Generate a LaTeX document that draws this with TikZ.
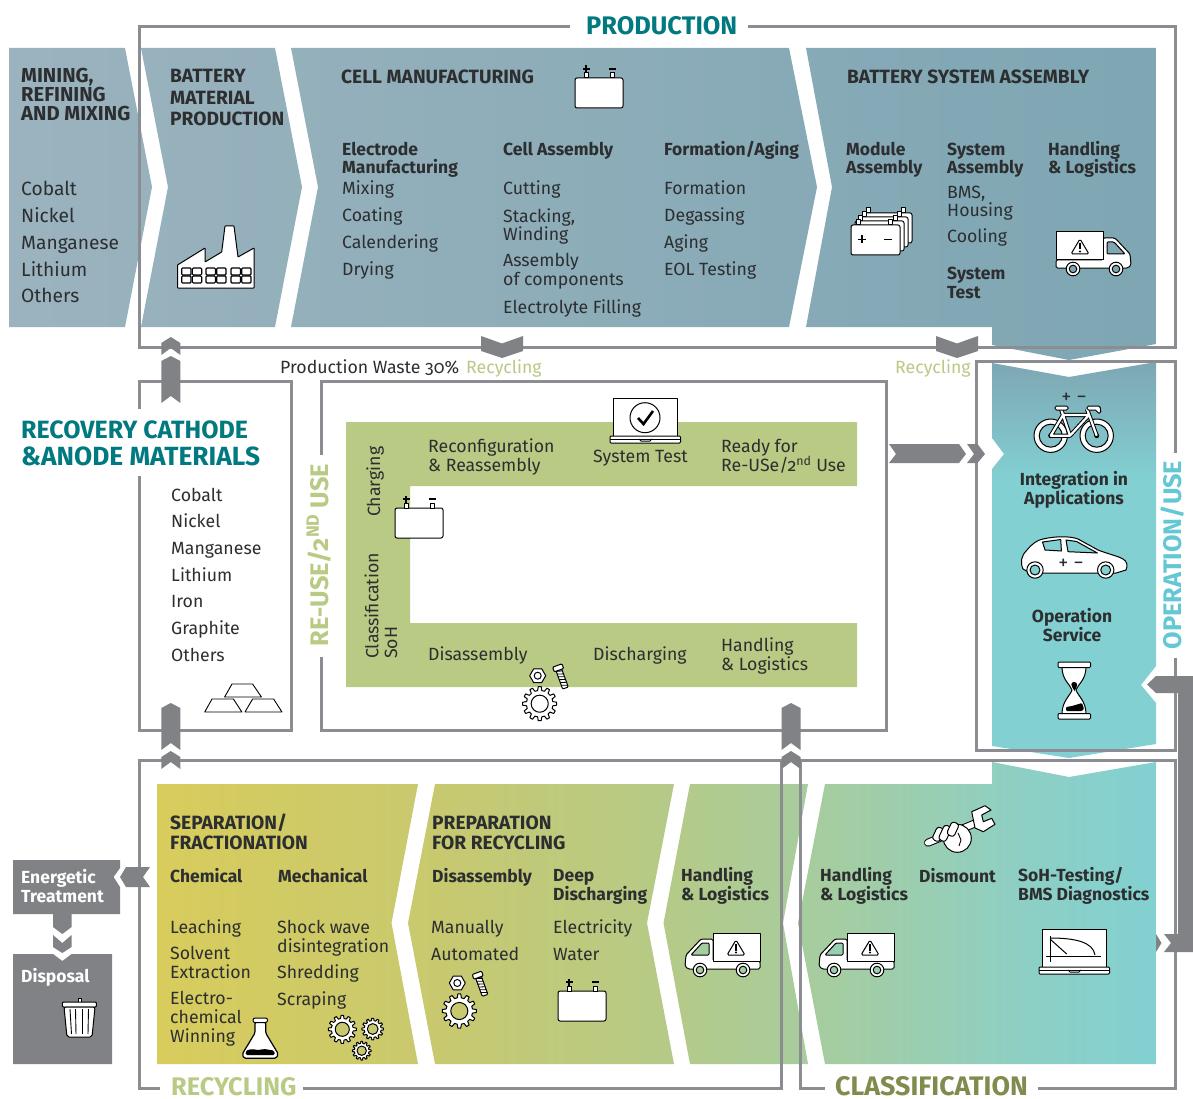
\documentclass[tikz,border=0pt]{standalone}
\usepackage{fontspec}
\setmainfont{Fira Sans}[Numbers=OldStyle]
\usetikzlibrary{positioning}

\definecolor{framegray}{HTML}{8B8D92}
\definecolor{arrowgray}{HTML}{808285}
\definecolor{txtdark}{HTML}{2C2E30}
\definecolor{tealtitle}{HTML}{007A80}
\definecolor{reusegreen}{HTML}{B9CA84}
\definecolor{opcyan}{HTML}{63C8D4}
\definecolor{olivetitle}{HTML}{808C4E}
\definecolor{topleft}{HTML}{9BB3BE}
\definecolor{topright}{HTML}{7EA6B3}
\definecolor{botA}{HTML}{D8CC5C}
\definecolor{botB}{HTML}{C8C96F}
\definecolor{botC}{HTML}{B6CA86}
\definecolor{botD}{HTML}{A2CDA5}
\definecolor{botE}{HTML}{8ECFC3}
\definecolor{botF}{HTML}{82D0D2}

\pgfdeclarehorizontalshading{botshade}{100bp}{color(0bp)=(botA); color(25bp)=(botA); color(39bp)=(botB); color(50bp)=(botC); color(60bp)=(botD); color(68bp)=(botE); color(75bp)=(botF); color(100bp)=(botF)}

\tikzset{
  panelhead/.style={anchor=base west,inner sep=0pt,align=left,text=txtdark,font=\fontsize{19.2}{19.2}\selectfont\bfseries},
  subhead/.style={anchor=base west,inner sep=0pt,align=left,text=txtdark,font=\fontsize{17.5}{18.2}\selectfont\bfseries},
  listitem/.style={anchor=base west,inner sep=0pt,align=left,text=txtdark,font=\fontsize{17.7}{18.7}\selectfont},
  bigtitle/.style={anchor=base west,inner sep=0pt,align=left,font=\fontsize{25.4}{27}\selectfont\bfseries},
  frameline/.style={draw=framegray,line width=3pt},
  chev/.style={fill=arrowgray},
  icon/.style={draw=black,fill=white,line width=1pt,line join=round},
  pics/battery/.style={code={
    \filldraw[icon,rounded corners=2pt] (0,0) rectangle (48,30);
    \filldraw[icon] (9,-5) rectangle (13,0);
    \filldraw[icon] (35,-5) rectangle (39,0);
    \draw[line width=1.8pt] (7.5,-9) -- (14.5,-9) (11,-12.5) -- (11,-5.5);
    \draw[line width=1.8pt] (33.5,-9) -- (40.5,-9);
  }},
  pics/truck/.style={code={
    \filldraw[icon,rounded corners=1.5pt] (47,6) -- (59,6) -- (74,22) -- (75,33) -- (72,36) -- (0,36) -- (0,28) -- (47,28) -- cycle;
    \filldraw[icon,fill=#1,rounded corners=1pt] (51,10) -- (58,10) -- (69,22) -- (51,22) -- cycle;
    \filldraw[icon] (0,0) rectangle (47,28);
    \filldraw[icon,rounded corners=1.5pt] (24,7) -- (33,22) -- (15,22) -- cycle;
    \fill (23,11) rectangle (25,17.5);
    \fill (24,19.5) circle (1.2);
    \filldraw[icon] (17,37) circle (6.8);
    \filldraw[icon,fill=#1] (17,37) circle (3.8);
    \filldraw[icon] (60,37) circle (6.8);
    \filldraw[icon,fill=#1] (60,37) circle (3.8);
  }},
  pics/gear/.style={code={
    \filldraw[icon] (-9:14) \foreach \a in {0,30,...,330}{ -- (\a-9:14) -- (\a-5:18) -- (\a+5:18) -- (\a+9:14) } -- cycle;
    \filldraw[icon,fill=#1] (0,0) circle (9);
  }},
  pics/parts/.style={code={
    \filldraw[icon] (0:8) -- (60:8) -- (120:8) -- (180:8) -- (240:8) -- (300:8) -- cycle;
    \draw[line width=1pt] (0,0) circle (3.5);
    \begin{scope}[shift={(24,2)},rotate=-160]
      \filldraw[icon,rounded corners=1pt] (-3,-11) rectangle (3,8);
      \filldraw[icon,rounded corners=1pt] (-5,8) rectangle (5,13);
      \foreach \s in {-9,-6,...,6} \draw[line width=.8pt] (-3,\s) -- (3,\s+2);
    \end{scope}
    \pic[scale=.95] at (2,28) {gear=#1};
  }},
  pics/laptop/.style={code={
    \filldraw[icon] (0,0) rectangle (64.5,38);
    \filldraw[icon,rounded corners=1pt] (-3,38) rectangle (67.5,45);
    \draw[line width=1pt] (-3,41) -- (67.5,41);
    \draw[line width=1pt] (26,41) -- (28,43) -- (37,43) -- (39,41);
  }},
  pics/uparrow/.style={code={
    \fill[chev] (0,0) -- (9.5,5) -- (9.5,47) -- (0,40) -- (-9.5,47) -- (-9.5,5) -- cycle;
  }},
  pics/upchevron/.style={code={
    \fill[chev] (0,0) -- (9.5,6) -- (9.5,18) -- (0,11) -- (-9.5,18) -- (-9.5,6) -- cycle;
  }},
  pics/downchevron/.style={code={
    \fill[chev] (-21,0) -- (0,7.5) -- (21,0) -- (21,15) -- (0,22) -- (-21,15) -- cycle;
  }}
}

\begin{document}
\begin{tikzpicture}[x=1pt,y=-1pt]
  \useasboundingbox (0,0) rectangle (1193,1099);
  \fill[white] (0,0) rectangle (1193,1099);

  % production panels
  \begin{scope}
    \clip (9,48) -- (125,48) -- (152,187) -- (125,327) -- (9,327) -- cycle
          (141,48) -- (275,48) -- (302,187) -- (275,327) -- (141,327) -- (168,187) -- cycle
          (291,48) -- (789,48) -- (817,187) -- (789,327) -- (291,327) -- (318,187) -- cycle
          (806,48) -- (1156,48) -- (1156,344) -- (1069,360) -- (992,345) -- (992,327) -- (806,327) -- (832,187) -- cycle;
    \shade[left color=topleft,right color=topright] (9,40) rectangle (1156,365);
  \end{scope}

  % operation panel
  \begin{scope}
    \clip (992,363) -- (1069,377) -- (1156,362) -- (1156,666) -- (1141,685) -- (1156,703) -- (1156,744) -- (1069,758) -- (992,746) -- (992,469) -- (1004,454) -- (992,438) -- cycle;
    \shade[top color=topright,bottom color=botF] (985,360) rectangle (1160,480);
    \fill[botF] (985,480) rectangle (1160,760);
  \end{scope}

  % re-use band
  \fill[reusegreen] (346,422) -- (857,422) -- (857,486) -- (410,486) -- (410,623) -- (857,623) -- (857,687) -- (346,687) -- cycle;

  % recycling and classification panels
  \begin{scope}
    \clip (157,784) -- (418,784) -- (391.5,923) -- (418,1064) -- (157,1064) -- cycle
          (435,784) -- (674,784) -- (647,923) -- (674,1064) -- (435,1064) -- (408,923) -- cycle
          (690,784) -- (808,784) -- (783,923) -- (808,1064) -- (690,1064) -- (663.5,923) -- cycle
          (825,784) -- (992,784) -- (992,762) -- (1069,777) -- (1156,762) -- (1156,1064) -- (825,1064) -- (798,923) -- cycle;
    \shade[shading=botshade] (157,755) rectangle (1156,1070);
  \end{scope}

  % side boxes
  \fill[arrowgray] (13,860) -- (120,860) -- (120,868) -- (113.6,877) -- (120,887) -- (120,914) -- (13,914) -- cycle;
  \fill[arrowgray] (13,954) -- (53,954) -- (62.4,961) -- (71.6,954) -- (112,954) -- (112,1064) -- (13,1064) -- cycle;

  % frames
  \draw[frameline] (570,27) -- (139,27) -- (139,347) -- (1175,347) -- (1175,27) -- (748,27);
  \draw[frameline] (139,409) -- (139,381) -- (291,381) -- (291,730) -- (139,730) -- (139,476);
  \draw[frameline] (321,455) -- (321,381) -- (886,381) -- (886,730) -- (321,730) -- (321,657);
  \draw[frameline] (1175,453) -- (1175,361) -- (976,361) -- (976,750) -- (1175,750) -- (1175,658);
  \draw[frameline] (160,1088) -- (139,1088) -- (139,760) -- (781,760) -- (781,1088) -- (303,1088);
  \draw[frameline] (1038,1088) -- (1175,1088) -- (1175,760) -- (800,760) -- (800,1088) -- (825,1088);

  % gray arrows
  \pic at (170.8,356) {uparrow};
  \pic at (170.8,337) {upchevron};
  \pic at (170.8,703) {uparrow};
  \pic at (170.8,751) {upchevron};
  \pic at (791,703) {uparrow};
  \pic at (791,751) {upchevron};
  \pic at (502,336) {downchevron};
  \pic at (957,336) {downchevron};
  \fill[chev] (889,444) -- (959,444) -- (966,454) -- (959,463) -- (889,463) -- (896,454) -- cycle;
  \fill[chev] (967,444) -- (977.5,444) -- (985,454) -- (977.5,463) -- (967,463) -- (974,454) -- cycle;
  \fill[chev] (1193,676) -- (1156,676) -- (1147,684.5) -- (1156,693) -- (1178,693) -- (1178,934) -- (1164,934) -- (1171,943) -- (1164,952) -- (1193,952) -- cycle;
  \fill[chev] (1156,934) -- (1161.5,943) -- (1156,952) -- cycle;
  \fill[chev] (126,867) -- (150,867) -- (143,877) -- (150,887) -- (126,887) -- (120,877) -- cycle;
  \fill[chev] (53,914) -- (71.6,914) -- (71.6,927) -- (62.3,934) -- (53,927) -- cycle;
  \fill[chev] (53,935) -- (62.3,943) -- (71.6,935) -- (71.6,947) -- (62.3,953) -- (53,947) -- cycle;

  % titles
  \node[bigtitle,text=tealtitle] (production) at (586,35) {PRODUCTION};
  \node[bigtitle,text=tealtitle] (recovery) at (21,465.5) {{\fontsize{25}{27}\selectfont RECOVERY CATHODE}\\\fontsize{26.3}{27}\selectfont\&ANODE MATERIALS};
  \node[bigtitle,text=reusegreen] (recyclingt) at (171,1095.5) {RECYCLING};
  \node[bigtitle,text=olivetitle,font=\fontsize{26.8}{27}\selectfont\bfseries] (classification) at (835,1095.5) {CLASSIFICATION};
  \node[bigtitle,text=reusegreen,rotate=90,anchor=base] (reuse) at (328,555) {RE-USE/2\textsuperscript{ND} USE};
  \node[bigtitle,text=opcyan,rotate=90,anchor=base] (operation) at (1181,555) {OPERATION/USE};

  % production texts
  \node[panelhead,font=\fontsize{20.2}{19}\selectfont\bfseries] (mining) at (21,121) {MINING,\\REFINING\\AND MIXING};
  \foreach \txt [count=\i from 0] in {Cobalt,Nickel,Manganese,Lithium,Others}
    \node[listitem,font=\fontsize{19.2}{19.2}\selectfont] (miningitem\i) at (21,{196+26.7*\i}) {\txt};
  \node[panelhead,font=\fontsize{19.2}{21.5}\selectfont\bfseries] (material) at (170,126) {BATTERY\\MATERIAL\\PRODUCTION};
  \node[panelhead] (cellhead) at (341,84) {CELL MANUFACTURING};
  \node[subhead] (electrode) at (342,173.3) {Electrode\\Manufacturing};
  \foreach \txt [count=\i from 0] in {Mixing,Coating,Calendering,Drying}
    \node[listitem] (electrodeitem\i) at (342,{195+27*\i}) {\txt};
  \node[subhead] (cellassembly) at (503,155.5) {Cell Assembly};
  \node[listitem] (cutting) at (503,195) {Cutting};
  \node[listitem] (stacking) at (503,241) {Stacking,\\Winding};
  \node[listitem] (assembly) at (503,285) {Assembly\\of components};
  \node[listitem] (filling) at (503,313) {Electrolyte Filling};
  \node[subhead] (formationhead) at (664,155.5) {Formation/Aging};
  \foreach \txt [count=\i from 0] in {Formation,Degassing,Aging,EOL Testing}
    \node[listitem] (formationitem\i) at (664,{195+27*\i}) {\txt};
  \node[panelhead] (systemhead) at (847,84) {BATTERY SYSTEM ASSEMBLY};
  \node[subhead] (module) at (846,173.3) {Module\\Assembly};
  \node[subhead] (sysassembly) at (947,173.3) {System\\Assembly};
  \node[subhead] (handlingA) at (1048,173.3) {Handling\\\& Logistics};
  \node[listitem] (bms) at (947,217) {BMS,\\Housing};
  \node[listitem] (cooling) at (947,243) {Cooling};
  \node[subhead] (systest) at (947,298) {System\\Test};

  \node[listitem] (waste) at (280,373) {Production Waste 30\%};
  \node[listitem,text=reusegreen] (recyclingA) at (466,373) {Recycling};
  \node[listitem,text=reusegreen] (recyclingB) at (895,373) {Recycling};

  % recovery list
  \foreach \txt [count=\i from 0] in {Cobalt,Nickel,Manganese,Lithium,Iron,Graphite,Others}
    \node[listitem] (recoveryitem\i) at (171,{501+26.7*\i}) {\txt};

  % re-use texts
  \node[listitem] (reconfig) at (428,471.5) {Reconfiguration\\\& Reassembly};
  \node[listitem] (systemtest) at (593,462) {System Test};
  \node[listitem] (ready) at (721,471.5) {Ready for\\Re-USe/2\smash{\textsuperscript{nd}} Use};
  \node[listitem,rotate=90] (charging) at (380,517) {Charging};
  \node[listitem,rotate=90] (classsoh) at (397,659) {Classification\\SoH};
  \node[listitem] (disassemblyA) at (428,660) {Disassembly};
  \node[listitem] (discharging) at (593,660) {Discharging};
  \node[listitem] (handlingB) at (721,670) {Handling\\\& Logistics};

  % operation texts
  \node[subhead,anchor=base,align=center] (integration) at (1074,504) {Integration in\\Applications};
  \node[subhead,anchor=base,align=center] (opservice) at (1072,641) {Operation\\Service};

  % recycling texts
  \node[panelhead] (separation) at (170,849) {SEPARATION/\\FRACTIONATION};
  \node[panelhead] (preparation) at (432,849) {PREPARATION\\FOR RECYCLING};
  \node[subhead] (chemical) at (170,882) {Chemical};
  \node[subhead] (mechanical) at (278,882) {Mechanical};
  \node[subhead] (disassemblyB) at (432,882) {Disassembly};
  \node[subhead] (deep) at (553,900) {Deep\\Discharging};
  \node[subhead] (handlingC) at (681,900) {Handling\\\& Logistics};
  \node[subhead] (handlingD) at (820,900) {Handling\\\& Logistics};
  \node[subhead] (dismount) at (919,882) {Dismount};
  \node[subhead] (soh) at (1018,900) {SoH-Testing/\\BMS Diagnostics};
  \node[listitem] (leaching) at (170,933) {Leaching};
  \node[listitem] (solvent) at (170,978) {Solvent\\Extraction};
  \node[listitem] (electro) at (170,1042) {Electro-\\chemical\\Winning};
  \node[listitem] (shock) at (277,952) {Shock wave\\disintegration};
  \node[listitem] (shredding) at (277,978) {Shredding};
  \node[listitem] (scraping) at (277,1005) {Scraping};
  \node[listitem] (manually) at (431,933) {Manually};
  \node[listitem] (automated) at (431,960) {Automated};
  \node[listitem] (electricity) at (553,933) {Electricity};
  \node[listitem] (water) at (553,960) {Water};
  \node[subhead,text=white] (energetic) at (21,902) {Energetic\\Treatment};
  \node[subhead,text=white] (disposal) at (21,982) {Disposal};

  % reused icons
  \pic at (575,78) {battery};
  \pic at (395,508) {battery};
  \pic at (558,991) {battery};
  \pic at (1056,232) {truck=topright};
  \pic[xscale=-1] at (760,933) {truck=botD!80!botC};
  \pic[xscale=-1] at (894,933) {truck=botD!60!botE};
  \pic at (537.7,675.7) {parts=white};
  \pic at (457.3,983) {parts=botB};
  \pic[scale=.78] at (342.3,1029.3) {gear=botB};
  \pic[scale=.6] at (372.7,1029) {gear=botB};
  \pic[scale=.52] at (361.7,1050.7) {gear=botB};

  % factory
  \filldraw[icon,rounded corners=.5pt] (177.5,265) -- (205,248) -- (205,262) -- (221.7,252) -- (225,226) -- (234,226) -- (238,257) -- (254,248) -- (254,288) -- (177.5,288) -- cycle;
  \foreach \wx in {181.7,206,231}
    \foreach \wy in {268,276} {
      \draw[line width=1.1pt,rounded corners=1pt] (\wx,\wy) rectangle (\wx+9.3,\wy+7);
      \draw[line width=1.1pt,rounded corners=1pt] (\wx+10.7,\wy) rectangle (\wx+20,\wy+7);
    }

  % module stack
  \foreach \dx in {3,2,1} {
    \filldraw[icon] ({854+4*\dx},{220-4*\dx}) rectangle ({858+4*\dx},{225-4*\dx});
    \filldraw[icon] ({889+4*\dx},{220-4*\dx}) rectangle ({893+4*\dx},{225-4*\dx});
    \filldraw[icon,rounded corners=2pt] ({851+4*\dx},{225-4*\dx}) rectangle ({900+4*\dx},{255-4*\dx});
  }
  \filldraw[icon] (856,220) rectangle (860,225);
  \filldraw[icon] (888,220) rectangle (892,225);
  \filldraw[icon,rounded corners=2pt] (851,225) rectangle (900,255);
  \draw[line width=1.8pt] (858,239.5) -- (866,239.5) (862,235.5) -- (862,243.5) (884,239.5) -- (892,239.5);

  % gold bars
  \draw[line width=.9pt,line join=round] (224.6,697) -- (232,684) -- (252.6,684) -- (261.4,697) -- cycle;
  \draw[line width=.9pt,line join=round] (204.7,712) -- (212,699) -- (233.4,699) -- (241.9,712) -- cycle;
  \draw[line width=.9pt,line join=round] (245,712) -- (252.6,699) -- (273.6,699) -- (282,712) -- cycle;

  % check laptop
  \pic at (613,398) {laptop};
  \filldraw[icon] (645,417.7) circle (15);
  \draw[line width=2.6pt] (638,418) -- (643.5,424) -- (653,411);

  % bike
  \foreach \wx in {1050.7,1096.7} {
    \filldraw[icon] (\wx,435.7) circle (16.7);
    \filldraw[icon,fill=topright!35!botF] (\wx,435.7) circle (11.5);
    \fill (\wx,435.7) circle (2.5);
  }
  \foreach \lw/\lc in {4.2pt/black,2.2pt/white}
    \draw[line width=\lw,color=\lc,line join=round] (1050.7,435.7) -- (1063,415) -- (1089,415) -- (1070,435.7) -- cycle (1063,415) -- (1061,409) (1070,435.7) -- (1063,415) (1096.7,435.7) -- (1087,409);
  \filldraw[icon,rounded corners=1.5pt] (1055,406) rectangle (1068,410);
  \filldraw[icon,rounded corners=1.5pt] (1087,406) -- (1100,406) -- (1101,413) -- (1097,413) -- (1097,410) -- (1087,410) -- cycle;
  \node[listitem,anchor=base,font=\fontsize{20}{20}\selectfont] (bikepm) at (1074,403) {+ −};

  % car
  \filldraw[icon] (1023,569) .. controls (1020,562) and (1021,556) .. (1027,550) .. controls (1032,544) and (1037,540) .. (1043,539) .. controls (1056,536) and (1070,536) .. (1078,539) -- (1098,550) .. controls (1108,554) and (1118,556) .. (1123,559) .. controls (1127,561) and (1128,566) .. (1126,570) -- (1116,573) -- (1030,573) -- cycle;
  \filldraw[icon,fill=botF] (1042.5,542) -- (1060.7,539.5) -- (1061.4,551) -- (1045,550) -- cycle;
  \filldraw[icon,fill=botF] (1066,540) -- (1076.5,541.5) -- (1097.4,553) -- (1068,551.7) -- cycle;
  \foreach \wx in {1035,1105.7} {
    \filldraw[icon] (\wx,570) circle (8.2);
    \filldraw[icon,fill=botF] (\wx,570) circle (5);
  }
  \node[listitem,anchor=base,font=\fontsize{20}{20}\selectfont] (carpm) at (1071,569) {+ −};

  % hourglass
  \filldraw[icon] (1062,667) .. controls (1062,680) and (1070,684) .. (1072,690) .. controls (1070,696) and (1062,701) .. (1062,714) -- (1086,714) .. controls (1086,701) and (1078,696) .. (1076,690) .. controls (1078,684) and (1086,680) .. (1086,667) -- cycle;
  \filldraw[icon,rounded corners=1pt] (1058,662) rectangle (1090.5,667.5);
  \filldraw[icon,rounded corners=1pt] (1058,713.5) rectangle (1090.5,719);
  \fill (1074,682) .. controls (1078,682) and (1078,686) .. (1074.5,691) .. controls (1071,686) and (1070,682) .. (1074,682);
  \fill[rounded corners=1pt] (1066,711) -- (1066,707) -- (1072,706) -- (1082,703) -- (1084,709) -- (1082,711) -- cycle;

  % wrench and fist
  \draw[line width=8pt,line cap=round] (928,842.7) -- (976,823);
  \draw[line width=6pt,color=white,line cap=round] (928,842.7) -- (976,823);
  \filldraw[icon,line join=round] (971.7,811.7) -- (985,805.7) -- (991,810) -- (981.7,815) -- (983.3,821.7) -- (991.7,818.3) -- (995,824.3) -- (983.3,831.7) -- (975,828) -- cycle;
  \filldraw[icon] (957.3,838.3) circle (14);
  \filldraw[icon,rounded corners=3pt,rotate around={-25:(938.3,834.3)}] (934.3,827.3) rectangle (942.3,841.3);
  \filldraw[icon,rounded corners=3pt,rotate around={-25:(945,833.3)}] (941,825.3) rectangle (949,841.3);
  \filldraw[icon,rounded corners=3pt,rotate around={-25:(953.3,828.3)}] (949.3,822.3) rectangle (957.3,836.3);
  \draw[line width=.9pt] (958,833) -- (961,840) -- (959,846);

  % graph laptop
  \pic at (1042,929) {laptop};
  \draw[line width=1pt] (1050,936) -- (1050,961.7) (1046,956.7) -- (1100.7,956.7);
  \draw[line width=1pt] (1050,938) .. controls (1075,938) and (1093,942) .. (1095,955);
  \draw[line width=1pt] (1050,939) -- (1066.7,954);

  % flask
  \filldraw[icon,line width=1.2pt,rounded corners=1.5pt] (255,1022) -- (255,1033) -- (242.3,1054) -- (244,1058.3) -- (276,1058.3) -- (278.3,1054) -- (265.7,1033) -- (265.7,1022) -- cycle;
  \filldraw[icon,rounded corners=2pt] (253,1018) rectangle (267.5,1022.5);
  \fill[rounded corners=1.5pt] (246,1050.5) -- (252,1049) -- (258,1050) -- (264,1049) -- (274,1050.5) -- (275,1055) -- (245.5,1055) -- cycle;

  % trash
  \filldraw[icon] (78,998) rectangle (81,1002);
  \filldraw[icon,rounded corners=1pt] (62.4,1002) rectangle (96.4,1007);
  \filldraw[icon,rounded corners=2pt] (64,1007) -- (95,1007) -- (92,1037) -- (67,1037) -- cycle;
  \foreach \tx/\bx in {70/71.5,75.5/76,82/82,88.5/88}
    \draw[line width=.9pt] (\tx,1009) -- (\bx,1034);
\end{tikzpicture}
\end{document}
